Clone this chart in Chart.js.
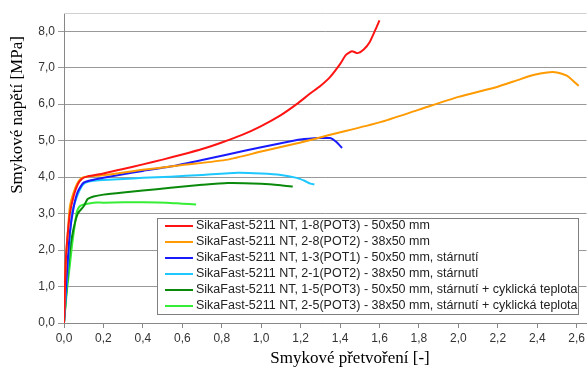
<!DOCTYPE html>
<html>
<head>
<meta charset="utf-8">
<script src="https://cdn.jsdelivr.net/npm/chart.js@4"></script>
<style>
  html, body { margin:0; padding:0; background:#fff; }
  #wrap { width:588px; height:371px; position:relative; }
</style>
</head>
<body>
<div id="wrap"><canvas id="c"></canvas></div>
<script>
// ====== data ======
const seriesLabels = [
  "SikaFast-5211 NT, 1-8(POT3) - 50x50 mm",
  "SikaFast-5211 NT, 2-8(POT2) - 38x50 mm",
  "SikaFast-5211 NT, 1-3(POT1) - 50x50 mm, stárnutí",
  "SikaFast-5211 NT, 2-1(POT2) - 38x50 mm, stárnutí",
  "SikaFast-5211 NT, 1-5(POT3) - 50x50 mm, stárnutí + cyklická teplota",
  "SikaFast-5211 NT, 2-5(POT3) - 38x50 mm, stárnutí + cyklická teplota"
];
const seriesColors = ['#ff1414','#ff9a00','#1a1aff','#1ec8ff','#0a8a0a','#35ee35'];

const redX = [0,0.005,0.01,0.02,0.03,0.05,0.07,0.09,0.12,0.2,0.3,0.4,0.5,0.6,0.7,0.8,0.9,1.0,1.1,1.18,1.25,1.3,1.35,1.4,1.43,1.46,1.49,1.52,1.55,1.58,1.6];
const redY = [0,1.1,1.8,2.5,3.0,3.5,3.8,3.95,4.02,4.1,4.22,4.35,4.48,4.62,4.77,4.95,5.15,5.4,5.7,6.0,6.3,6.5,6.75,7.1,7.35,7.45,7.4,7.5,7.7,8.05,8.3];

const orangeX = [0,0.005,0.01,0.02,0.03,0.05,0.07,0.09,0.12,0.2,0.4,0.54,0.6,0.83,1.0,1.2,1.35,1.6,1.8,2.0,2.2,2.3,2.38,2.45,2.5,2.55,2.58,2.61];
const orangeY = [0,1.0,1.8,2.55,3.2,3.6,3.85,3.98,4.02,4.05,4.2,4.29,4.33,4.48,4.7,4.95,5.16,5.5,5.85,6.2,6.48,6.66,6.8,6.87,6.87,6.78,6.65,6.5];

const blueX = [0,0.01,0.02,0.03,0.05,0.07,0.1,0.15,0.2,0.3,0.4,0.54,0.7,0.83,1.0,1.1,1.2,1.3,1.35,1.38,1.41];
const blueY = [0,1.0,1.8,2.5,3.2,3.6,3.85,3.93,3.98,4.08,4.17,4.29,4.47,4.62,4.82,4.93,5.03,5.07,5.07,4.97,4.8];

const cyanX = [0,0.01,0.02,0.04,0.066,0.09,0.11,0.15,0.2,0.3,0.4,0.54,0.7,0.88,1.0,1.1,1.18,1.22,1.25,1.27];
const cyanY = [0,0.8,1.6,3.0,3.47,3.75,3.85,3.9,3.92,3.95,3.98,4.01,4.06,4.12,4.1,4.06,3.98,3.9,3.82,3.8];

const dgreenX = [0,0.01,0.02,0.03,0.047,0.07,0.1,0.12,0.15,0.2,0.3,0.4,0.54,0.7,0.83,1.0,1.1,1.16];
const dgreenY = [0,0.7,1.4,2.0,2.55,3.0,3.2,3.4,3.47,3.52,3.58,3.63,3.71,3.79,3.84,3.82,3.78,3.74];

const lgreenX = [0,0.015,0.03,0.04,0.055,0.065,0.08,0.1,0.15,0.2,0.3,0.4,0.52,0.6,0.67];
const lgreenY = [0,0.9,1.6,2.1,2.7,3.05,3.2,3.25,3.3,3.3,3.31,3.31,3.3,3.27,3.25];

const xTitle = "Smykové přetvoření [-]";
const yTitle = "Smykové napětí [MPa]";

const allX = [redX, orangeX, blueX, cyanX, dgreenX, lgreenX];
const allY = [redY, orangeY, blueY, cyanY, dgreenY, lgreenY];

const fmt = v => Number(v).toFixed(1).replace('.', ',');
const sans = '"Liberation Sans", Arial, sans-serif';

// legend box + axis titles + top border
const extras = {
  id:'extras',
  afterDraw(chart){
    const ctx = chart.ctx, a = chart.chartArea;
    ctx.save();
    // top border of plot
    ctx.strokeStyle = '#d0d0d0'; ctx.lineWidth = 1;
    ctx.beginPath(); ctx.moveTo(a.left, a.top + 0.5); ctx.lineTo(a.right, a.top + 0.5); ctx.stroke();

    // legend
    const lx = 157, ly = 218, lw = 421, lh = 96;
    ctx.fillStyle = '#fff'; ctx.fillRect(lx, ly, lw, lh);
    ctx.strokeStyle = '#808080'; ctx.strokeRect(lx + 0.5, ly + 0.5, lw, lh);
    ctx.font = '12.5px ' + sans;
    ctx.textBaseline = 'middle';
    chart.data.datasets.forEach((ds, i) => {
      const y = ly + 8 + i * 16;
      ctx.strokeStyle = ds.borderColor; ctx.lineWidth = 2;
      ctx.beginPath(); ctx.moveTo(165, y); ctx.lineTo(193, y); ctx.stroke();
      ctx.fillStyle = '#222';
      ctx.fillText(ds.label, 196, y);
    });

    // axis titles
    ctx.fillStyle = '#000';
    ctx.font = '17px "Liberation Serif", "Times New Roman", serif';
    ctx.textAlign = 'center'; ctx.textBaseline = 'middle';
    ctx.fillText(xTitle, 350, 359);
    ctx.translate(18, 115); ctx.rotate(-Math.PI / 2);
    ctx.fillText(yTitle, 0, 0);
    ctx.restore();
  }
};

new Chart(document.getElementById('c').getContext('2d'), {
  type:'scatter',
  data:{
    datasets: seriesLabels.map((lab, i) => ({
      label: lab,
      data: allX[i].map((x, k) => ({ x, y: allY[i][k] })),
      showLine: true,
      borderColor: seriesColors[i],
      backgroundColor: seriesColors[i],
      borderWidth: 2,
      pointRadius: 0,
      tension: 0.2
    }))
  },
  options:{
    responsive: true,
    maintainAspectRatio: false,
    animation: false,
    layout:{ padding:{ top:13, right:0, left:0, bottom:0 } },
    plugins:{ legend:{ display:false }, tooltip:{ enabled:false } },
    scales:{
      x:{
        type:'linear', min:0, max:2.65,
        afterFit: s => { s.height = 48; },
        ticks:{ stepSize:0.2, includeBounds:false, maxRotation:0, padding:3,
                color:'#333', font:{ size:12, family:sans },
                callback: v => fmt(v) },
        grid:{ drawOnChartArea:false, drawTicks:true, tickLength:5, color:'#888' },
        border:{ color:'#888' }
      },
      y:{
        type:'linear', min:0, max:8.5,
        afterFit: s => { s.width = 64; },
        ticks:{ stepSize:1, includeBounds:false, padding:3,
                color:'#333', font:{ size:12, family:sans },
                callback: v => fmt(v) },
        grid:{ color:'#999', tickLength:6 },
        border:{ color:'#888' }
      }
    }
  },
  plugins:[extras]
});
</script>
</body>
</html>
